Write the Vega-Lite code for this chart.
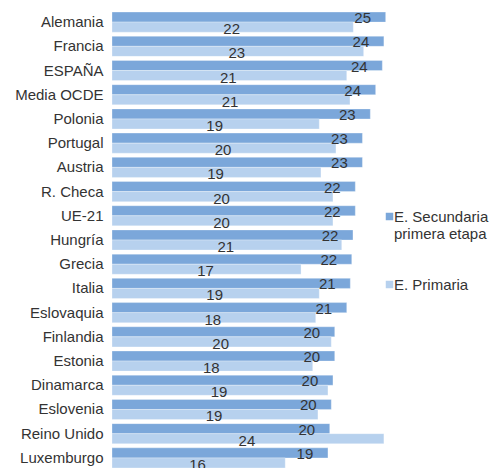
{
  "$schema": "https://vega.github.io/schema/vega-lite/v6.json",
  "width": 278,
  "height": 460,
  "autosize": "none",
  "padding": {"left": 112, "top": 10, "right": 104, "bottom": 0},
  "background": "white",
  "config": {
    "view": {"stroke": null},
    "font": "Liberation Sans",
    "text": {"font": "Liberation Sans"}
  },
  "data": {
    "values": [
      {"pais": "Alemania", "serie": "E. Secundaria primera etapa", "valor": 24.61},
      {"pais": "Alemania", "serie": "E. Primaria", "valor": 21.70},
      {"pais": "Francia", "serie": "E. Secundaria primera etapa", "valor": 24.45},
      {"pais": "Francia", "serie": "E. Primaria", "valor": 22.63},
      {"pais": "ESPAÑA", "serie": "E. Secundaria primera etapa", "valor": 24.31},
      {"pais": "ESPAÑA", "serie": "E. Primaria", "valor": 21.11},
      {"pais": "Media OCDE", "serie": "E. Secundaria primera etapa", "valor": 23.71},
      {"pais": "Media OCDE", "serie": "E. Primaria", "valor": 21.40},
      {"pais": "Polonia", "serie": "E. Secundaria primera etapa", "valor": 23.23},
      {"pais": "Polonia", "serie": "E. Primaria", "valor": 18.64},
      {"pais": "Portugal", "serie": "E. Secundaria primera etapa", "valor": 22.52},
      {"pais": "Portugal", "serie": "E. Primaria", "valor": 20.14},
      {"pais": "Austria", "serie": "E. Secundaria primera etapa", "valor": 22.52},
      {"pais": "Austria", "serie": "E. Primaria", "valor": 18.79},
      {"pais": "R. Checa", "serie": "E. Secundaria primera etapa", "valor": 21.88},
      {"pais": "R. Checa", "serie": "E. Primaria", "valor": 19.87},
      {"pais": "UE-21", "serie": "E. Secundaria primera etapa", "valor": 21.88},
      {"pais": "UE-21", "serie": "E. Primaria", "valor": 19.87},
      {"pais": "Hungría", "serie": "E. Secundaria primera etapa", "valor": 21.67},
      {"pais": "Hungría", "serie": "E. Primaria", "valor": 20.66},
      {"pais": "Grecia", "serie": "E. Secundaria primera etapa", "valor": 21.56},
      {"pais": "Grecia", "serie": "E. Primaria", "valor": 17.00},
      {"pais": "Italia", "serie": "E. Secundaria primera etapa", "valor": 21.43},
      {"pais": "Italia", "serie": "E. Primaria", "valor": 18.64},
      {"pais": "Eslovaquia", "serie": "E. Secundaria primera etapa", "valor": 21.11},
      {"pais": "Eslovaquia", "serie": "E. Primaria", "valor": 18.32},
      {"pais": "Finlandia", "serie": "E. Secundaria primera etapa", "valor": 20.03},
      {"pais": "Finlandia", "serie": "E. Primaria", "valor": 19.72},
      {"pais": "Estonia", "serie": "E. Secundaria primera etapa", "valor": 20.03},
      {"pais": "Estonia", "serie": "E. Primaria", "valor": 18.05},
      {"pais": "Dinamarca", "serie": "E. Secundaria primera etapa", "valor": 19.87},
      {"pais": "Dinamarca", "serie": "E. Primaria", "valor": 19.42},
      {"pais": "Eslovenia", "serie": "E. Secundaria primera etapa", "valor": 19.72},
      {"pais": "Eslovenia", "serie": "E. Primaria", "valor": 18.52},
      {"pais": "Reino Unido", "serie": "E. Secundaria primera etapa", "valor": 19.58},
      {"pais": "Reino Unido", "serie": "E. Primaria", "valor": 24.45},
      {"pais": "Luxemburgo", "serie": "E. Secundaria primera etapa", "valor": 19.42},
      {"pais": "Luxemburgo", "serie": "E. Primaria", "valor": 15.58}
    ]
  },
  "encoding": {
    "y": {
      "field": "pais", "type": "nominal", "sort": null,
      "scale": {"paddingInner": 0.17, "paddingOuter": 0.085},
      "axis": {"title": null, "ticks": false, "domain": false, "labelPadding": 9, "labelFontSize": 15, "labelColor": "#333333", "labelFont": "Liberation Sans"}
    },
    "yOffset": {
      "field": "serie", "type": "nominal",
      "scale": {"domain": ["E. Secundaria primera etapa", "E. Primaria"], "paddingInner": 0, "paddingOuter": 0}
    }
  },
  "layer": [
    {
      "mark": {"type": "bar", "stroke": "#ffffff", "strokeWidth": 0.5, "strokeOpacity": 0.6},
      "encoding": {
        "x": {"field": "valor", "type": "quantitative", "scale": {"domain": [0, 25], "nice": false}, "axis": null},
        "color": {
          "field": "serie", "type": "nominal",
          "scale": {"domain": ["E. Secundaria primera etapa", "E. Primaria"], "range": ["#7BA7DA", "#B7D1EE"]},
          "legend": {
            "title": null, "orient": "none", "legendX": 270, "legendY": 199,
            "symbolType": "square", "symbolSize": 56, "symbolStrokeWidth": 0,
            "labelFontSize": 15, "labelColor": "#333333", "labelFont": "Liberation Sans",
            "labelBaseline": "middle", "labelOffset": -3, "labelLimit": 200, "rowPadding": 35,
            "labelExpr": "datum.label == 'E. Secundaria primera etapa' ? ['E. Secundaria', 'primera etapa'] : datum.label"
          }
        }
      }
    },
    {
      "transform": [{"filter": "datum.serie == 'E. Secundaria primera etapa'"}],
      "mark": {"type": "text", "align": "center", "baseline": "middle", "dx": -23, "dy": 1, "fontSize": 15, "color": "#333333"},
      "encoding": {
        "x": {"field": "valor", "type": "quantitative"},
        "text": {"field": "valor", "type": "quantitative", "format": ".0f"}
      }
    },
    {
      "transform": [{"filter": "datum.serie == 'E. Primaria'"}, {"calculate": "datum.valor / 2", "as": "medio"}],
      "mark": {"type": "text", "align": "center", "baseline": "middle", "dx": -1, "dy": 2, "fontSize": 15, "color": "#333333"},
      "encoding": {
        "x": {"field": "medio", "type": "quantitative"},
        "text": {"field": "valor", "type": "quantitative", "format": ".0f"}
      }
    }
  ]
}
